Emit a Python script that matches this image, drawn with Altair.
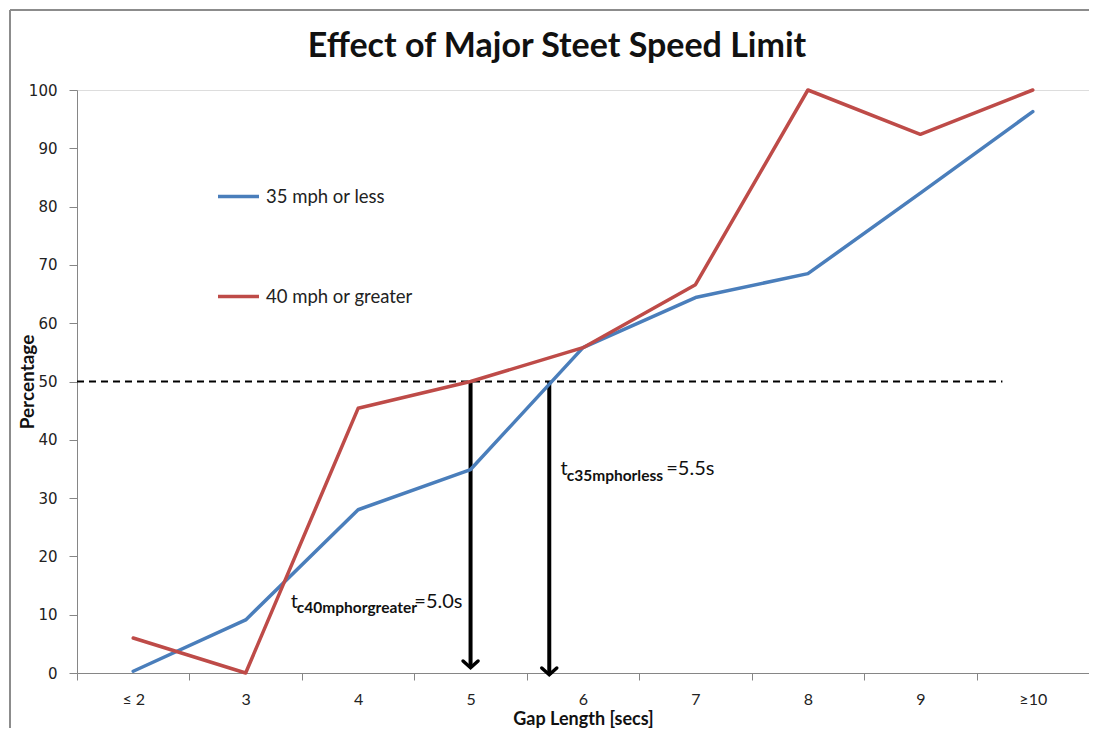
import json
import altair as alt
import pandas as pd

# ---------------- data ----------------
categories = ["≤ 2", "3", "4", "5", "6", "7", "8", "9", "≥10"]
positions = list(range(len(categories)))
speed_35_or_less = [0.3, 9.1, 28.0, 34.9, 55.8, 64.4, 68.5, 82.3, 96.3]
speed_40_or_greater = [6.0, 0.0, 45.4, 50.0, 55.8, 66.6, 100.0, 92.4, 100.0]
series_names = ["35 mph or less", "40 mph or greater"]
series_colors = ["#4A7EBB", "#BE4B48"]

y_ticks = list(range(0, 101, 10))
tick_bounds = [i - 0.5 for i in range(len(categories) + 1)]

# 50% critical gap reference
threshold_value = [50]
threshold_start = [-0.5]
threshold_end = [7.73]

# arrows dropping from the 50% crossing
arrow_x = [3.0, 3.7]
arrow_top = [50, 50]
arrow_bottom = [0.9, -0.3]

# annotations t_c... = ...
ann_t_x = [1.40, 3.80]
ann_t_y = [11.2, 33.9]
ann_sub_text = ["c40mphorgreater", "c35mphorless"]
ann_sub_x = [1.455, 3.855]
ann_sub_y = [10.3, 33.0]
ann_main_text = ["=5.0s", "=5.5s"]
ann_main_x = [2.50, 4.74]
ann_main_y = [11.2, 33.9]

# ---------------- tables ----------------
rows = []
for name, vals in zip(series_names, [speed_35_or_less, speed_40_or_greater]):
    for p, v in zip(positions, vals):
        rows.append({"pos": p, "value": v, "series": name})
lines_df = pd.DataFrame(rows)

thr_df = pd.DataFrame({"x": threshold_start, "x2": threshold_end, "y": threshold_value})
arrow_df = pd.DataFrame({"x": arrow_x, "top": arrow_top, "bottom": arrow_bottom})
t_df = pd.DataFrame({"x": ann_t_x, "y": ann_t_y, "text": ["t", "t"]})
sub_df = pd.DataFrame({"x": ann_sub_x, "y": ann_sub_y, "text": ann_sub_text})
main_df = pd.DataFrame({"x": ann_main_x, "y": ann_main_y, "text": ann_main_text})
frame_df = pd.DataFrame({"a": [0]})

W, H = 1012, 583
AXIS_GRAY = "#868686"

label_array = json.dumps(categories, ensure_ascii=False)
x_axis = alt.Axis(
    values=sorted(tick_bounds + positions),
    labelExpr=f"datum.value % 1 == 0 ? {label_array}[datum.value] : ''",
    tickOpacity={"condition": {"test": "datum.value % 1 == 0", "value": 0}, "value": 1},
    tickSize=7,
    tickColor=AXIS_GRAY,
    domainColor=AXIS_GRAY,
    domainWidth=1,
    labelFont="Lato",
    labelFontSize=16,
    labelColor="#222222",
    labelPadding=11,
    labelOverlap=False,
    labelFlush=False,
    grid=False,
    title="Gap Length [secs]",
    titleFont="Lato",
    titleFontSize=18,
    titleFontWeight="bold",
    titleColor="#111111",
    titleX=W / 2,
    titleY=51,
    titleBaseline="alphabetic",
    titleAnchor="middle",
)
y_axis = alt.Axis(
    values=y_ticks,
    grid=False,
    tickSize=8,
    tickColor=AXIS_GRAY,
    domainColor=AXIS_GRAY,
    domainWidth=1,
    labelFont="DejaVu Sans",
    labelFontSize=15,
    labelColor="#222222",
    labelPadding=12,
    title="Percentage",
    titleFont="Lato",
    titleFontSize=19,
    titleFontWeight="bold",
    titleColor="#111111",
    titleAngle=-90,
    titleX=-44,
    titleY=H / 2,
    titleBaseline="alphabetic",
    titleAnchor="middle",
)

x_scale = alt.Scale(domain=[-0.5, 8.5], nice=False, zero=False)
y_scale = alt.Scale(domain=[0, 100], nice=False)

lines = alt.Chart(lines_df).mark_line(
    strokeWidth=3.5, strokeCap="round", strokeJoin="round"
).encode(
    x=alt.X("pos:Q", scale=x_scale, axis=x_axis),
    y=alt.Y("value:Q", scale=y_scale, axis=y_axis),
    color=alt.Color(
        "series:N",
        scale=alt.Scale(domain=series_names, range=series_colors),
        legend=alt.Legend(
            orient="none",
            legendX=139,
            legendY=84,
            title=None,
            symbolType="stroke",
            symbolSize=1681,
            symbolStrokeWidth=3.5,
            labelFont="Lato",
            labelFontSize=18.5,
            labelColor="#222222",
            labelOffset=5,
            rowPadding=68,
            padding=0,
        ),
    ),
)

threshold = alt.Chart(thr_df).mark_rule(
    strokeDash=[7, 5], strokeWidth=1.8, color="black"
).encode(
    x=alt.X("x:Q", scale=x_scale), x2="x2:Q", y=alt.Y("y:Q", scale=y_scale)
)

arrows = alt.Chart(arrow_df).mark_rule(strokeWidth=4, color="black").encode(
    x=alt.X("x:Q", scale=x_scale), y=alt.Y("top:Q", scale=y_scale), y2="bottom:Q"
)
heads = alt.Chart(arrow_df).mark_point(
    shape="M-1,-0.9L0,0L1,-0.9", filled=False, strokeWidth=3.5, size=225,
    color="black", opacity=1, strokeCap="round",
).encode(x=alt.X("x:Q", scale=x_scale), y=alt.Y("bottom:Q", scale=y_scale))

t_text = alt.Chart(t_df).mark_text(
    align="left", baseline="alphabetic", font="Lato", fontSize=20, color="#111111"
).encode(x=alt.X("x:Q", scale=x_scale), y=alt.Y("y:Q", scale=y_scale), text="text:N")
sub_text = alt.Chart(sub_df).mark_text(
    align="left", baseline="alphabetic", font="Lato", fontSize=15.5, fontWeight="bold",
    color="#111111",
).encode(x=alt.X("x:Q", scale=x_scale), y=alt.Y("y:Q", scale=y_scale), text="text:N")
main_text = alt.Chart(main_df).mark_text(
    align="left", baseline="alphabetic", font="Lato", fontSize=20, color="#111111"
).encode(x=alt.X("x:Q", scale=x_scale), y=alt.Y("y:Q", scale=y_scale), text="text:N")

# outer chart-area frame (Excel chart border)
frame_left = alt.Chart(frame_df).mark_rule(color="#8c8c8c", strokeWidth=2).encode(
    x=alt.value(-67), y=alt.value(-80), y2=alt.value(H + 80)
)
frame_top = alt.Chart(frame_df).mark_rule(color="#8c8c8c", strokeWidth=2).encode(
    x=alt.value(-67), x2=alt.value(W + 20), y=alt.value(-80)
)

chart = alt.layer(
    frame_left, frame_top, threshold, arrows, heads, lines, t_text, sub_text, main_text
).properties(
    width=W,
    height=H,
    title=alt.TitleParams(
        "Effect of Major Steet Speed Limit",
        font="Lato",
        fontSize=34,
        fontWeight="bold",
        color="#111111",
        anchor="middle",
        dx=-26,
        offset=-82,
        frame="group",
        baseline="alphabetic",
    ),
    autosize=alt.AutoSizeParams(type="none"),
    padding={"left": 69, "top": 82, "right": 0, "bottom": 55},
).configure_view(stroke=None).configure(background="white")

chart.save("out.html", embed_options={"renderer": "svg", "actions": False})
